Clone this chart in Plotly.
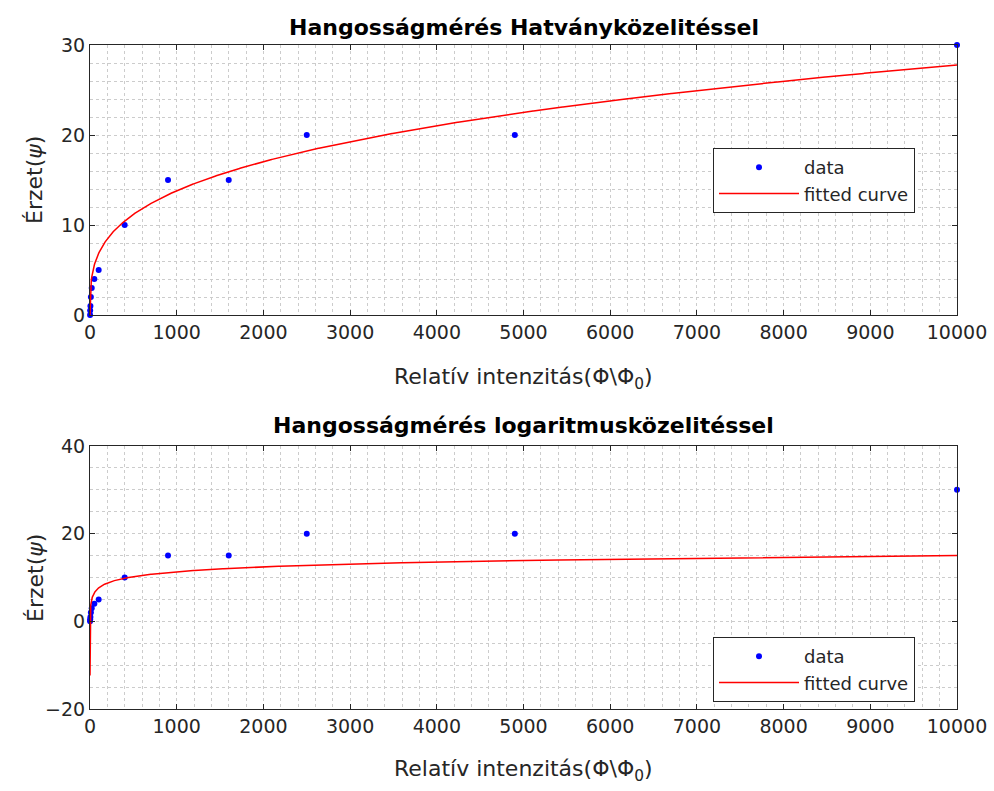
import numpy as np
import plotly.graph_objects as go

# ---- data ----
intensity = [1, 2, 5, 10, 20, 50, 100, 400, 900, 1600, 2500, 4900, 10000]
sensation = [0, 0.5, 1, 2, 3, 4, 5, 10, 15, 15, 20, 20, 30]

# fitted model parameters
pow_a, pow_b = 1.69, 0.304          # y = a * x^b
log_a, log_b = 0.26, 1.6            # y = a + b*ln(x)

x_ticks = list(range(0, 10001, 1000))
x_ticklabels = [str(v) for v in x_ticks]
y1_ticks = [0, 10, 20, 30]
y2_ticks = [-20, 0, 20, 40]

title1 = "Hangosságmérés Hatványközelitéssel"
title2 = "Hangosságmérés logaritmusközelitéssel"
xlabel = "Relatív intenzitás(Φ\\Φ<sub>0</sub>)"
ylabel = "Érzet(<i>ψ</i>)"

# curve evaluation grids
xf1 = np.linspace(0, 10000, 2001)
yf1 = pow_a * xf1 ** pow_b
xf2 = np.unique(np.concatenate([np.logspace(np.log10(3.7e-4), 4, 600), np.linspace(1, 10000, 1000)]))
yf2 = log_a + log_b * np.log(xf2)

AX = "#262626"
FONT = "DejaVu Sans, Liberation Sans, Arial, sans-serif"

fig = go.Figure()
fig.add_trace(go.Scatter(x=intensity, y=sensation, mode="markers", name="data", cliponaxis=False,
                         marker=dict(color="#0000FF", size=6), xaxis="x", yaxis="y", legend="legend"))
fig.add_trace(go.Scatter(x=xf1, y=yf1, mode="lines", name="fitted curve",
                         line=dict(color="#FF0000", width=1.5), xaxis="x", yaxis="y", legend="legend"))
fig.add_trace(go.Scatter(x=intensity, y=sensation, mode="markers", name="data", cliponaxis=False,
                         marker=dict(color="#0000FF", size=6), xaxis="x2", yaxis="y2", legend="legend2"))
fig.add_trace(go.Scatter(x=xf2, y=yf2, mode="lines", name="fitted curve",
                         line=dict(color="#FF0000", width=1.5), xaxis="x2", yaxis="y2", legend="legend2"))

def xax(anchor):
    return dict(range=[0, 10000], tickvals=x_ticks, ticktext=x_ticklabels, ticks="inside", ticklen=5,
                tickcolor=AX, showline=True, linecolor=AX, linewidth=1, mirror="ticks", showgrid=False,
                zeroline=False, anchor=anchor, domain=[0, 1], automargin=False,
                tickfont=dict(size=19, color=AX, family=FONT),
                minor=dict(dtick=200, showgrid=True, gridcolor="#cccccc", griddash="dot", gridwidth=1, ticks=""))

def yax(rng, tv, dt, dom, anchor):
    return dict(range=rng, tickvals=tv, ticks="inside", ticklen=5, tickcolor=AX,
                showline=True, linecolor=AX, linewidth=1, mirror="ticks", showgrid=False,
                zeroline=False, anchor=anchor, domain=dom, automargin=False,
                tickfont=dict(size=19, color=AX, family=FONT),
                minor=dict(dtick=dt, showgrid=True, gridcolor="#cccccc", griddash="dot", gridwidth=1, ticks=""))

H = 664.0
def py(p):
    return (709 - p) / H

def px(p):
    return (p - 90) / 867.0

leg_common = dict(bgcolor="white", bordercolor=AX, borderwidth=1, itemwidth=80,
                  font=dict(size=18, color=AX, family=FONT), xanchor="right", yanchor="top",
                  tracegroupgap=0)

fig.update_layout(
    width=994, height=791,
    margin=dict(l=90, r=37, t=45, b=82, autoexpand=False),
    paper_bgcolor="white", plot_bgcolor="white",
    font=dict(family=FONT, color=AX),
    xaxis=xax("y"),
    yaxis=yax([0, 30], y1_ticks, 2, [py(315), 1], "x"),
    xaxis2=xax("y2"),
    yaxis2=yax([-20, 40], y2_ticks, 5, [0, py(446)], "x2"),
    legend=dict(x=px(915), y=py(148), **leg_common),
    legend2=dict(x=px(915), y=py(637), **leg_common),
    showlegend=True,
)

ann = []
for t, yc in [(title1, 27), (title2, 425)]:
    ann.append(dict(text="<b>" + t + "</b>", x=0.5, y=py(yc), xref="paper", yref="paper",
                    showarrow=False, xanchor="center", yanchor="middle",
                    font=dict(size=22, color="#000000", family=FONT)))
for yc in [378, 770]:
    ann.append(dict(text=xlabel, x=0.5, y=py(yc), xref="paper", yref="paper",
                    showarrow=False, xanchor="center", yanchor="middle",
                    font=dict(size=22, color=AX, family=FONT)))
for yc in [180, 578]:
    ann.append(dict(text=ylabel, x=px(35), y=py(yc), xref="paper", yref="paper",
                    showarrow=False, xanchor="center", yanchor="middle", textangle=-90,
                    font=dict(size=22, color=AX, family=FONT)))
fig.update_layout(annotations=ann)

fig.write_html("out.html")
